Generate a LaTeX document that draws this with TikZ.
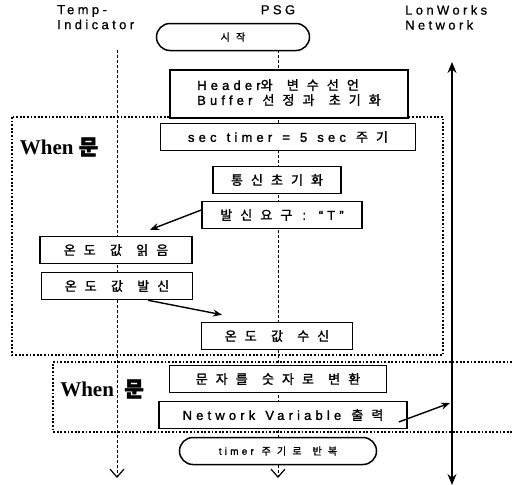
\documentclass[tikz,border=0pt]{standalone}
\usepackage{fontspec}
\setmainfont{Liberation Sans}[LetterSpace=32, WordSpace=1.3, FakeBold=1.5]
\newfontfamily\kofont{Noto Sans CJK KR}[LetterSpace=62, WordSpace=1.3, FakeBold=1.5]
\newfontfamily\headfont{Liberation Sans}[LetterSpace=26, FakeBold=0.8]
\newfontfamily\whenfont{Liberation Serif}
\newfontfamily\krbold{Noto Sans CJK KR}[FakeBold=2.5]
\newcommand\ko[1]{{\kofont #1}}
\usetikzlibrary{arrows.meta,shapes.misc,backgrounds}

\begin{document}
\begin{tikzpicture}[x=1pt, y=-1pt, >={Stealth[length=9pt,width=7pt]},
	box/.style={draw, line width=1.5pt, fill=white, inner sep=0pt, minimum height=27pt, font=\fontsize{13}{17}\selectfont},
	term/.style={box, rounded rectangle, rounded rectangle arc length=180, font=\fontsize{10}{12}\selectfont},
	frame/.style={line width=2.6pt, dash pattern=on 1.8pt off 1.8pt},
	life/.style={line width=1pt, dash pattern=on 3pt off 2pt},
	msg/.style={->, line width=1.4pt},
	head/.style={inner sep=0pt, align=left, font=\headfont\fontsize{13}{15}\selectfont},
	whenlbl/.style={inner sep=0pt, font=\fontsize{21}{21}\selectfont}]
	\useasboundingbox (0,0) rectangle (512,485);

	% column titles
	\node[head, anchor=north west] (temp) at (57,5) {Temp-\\Indicator};
	\node[head, anchor=north] (psg) at (278,5) {PSG};
	\node[head, anchor=north west] (lon) at (405,5) {LonWorks\\Network};

	% the two When blocks
	\draw[frame] (12,117) rectangle (443,355);
	\draw[frame] (512,362) -- (53,362) -- (53,432) -- (512,432);
	\node[whenlbl] (when1) at (59,147) {\whenfont\bfseries When\ \krbold 문};
	\node[whenlbl] (when2) at (102,389) {\whenfont\bfseries When\ \ \krbold 문};

	% steps
	\node[term, minimum width=153] (start) at (233,37) {\ko{시작}};
	\node[box, minimum width=238, minimum height=48] (header) at (289,94) {\begin{tabular}{@{}l@{}}Header\ko{와 변수선언}\\[-2pt]Buffer \ko{선정과 초기화}\end{tabular}};
	\node[box, minimum width=255] (timer) at (288,137) {sec timer = 5 sec \ko{주기}};
	\node[box, minimum width=128] (init) at (277,180) {\ko{통신초기화}};
	\node[box, minimum width=160] (req) at (282,215) {\ko{발신요구} : “T”};
	\node[box, minimum width=152] (read) at (116,250) {\ko{온도 값 읽음}};
	\node[box, minimum width=151] (send) at (117,286) {\ko{온도 값 발신}};
	\node[box, minimum width=151] (recv) at (277,336) {\ko{온도 값 수신}};
	\node[box, minimum width=217] (conv) at (278,379) {\ko{문자를 숫자로 변환}};
	\node[box, minimum width=248] (nv) at (283,415) {Network Variable \ko{출력}};
	\node[term, minimum width=197] (loop) at (278,451) {timer \ko{주기로 반복}};

	\coordinate (tl0) at (117,50);
	\coordinate (tl1) at (117,478);
	\coordinate (pl0) at (278,50);
	\coordinate (pl1) at (278,478);
	\coordinate (lw0) at (452,62);
	\coordinate (lw1) at (452,485);
	\coordinate (lwin) at (450,403);

	% messages
	\draw[msg] ([yshift=5pt]req.west) -- ([xshift=34pt,yshift=6pt]read.north);
	\draw[msg] ([xshift=31pt]send.south) -- ([xshift=-55pt,yshift=7pt]recv.north);
	\draw[msg] ([xshift=-9pt,yshift=-7pt]nv.east) -- (lwin);

	% lifelines
	\begin{pgfonlayer}{background}
		\draw[life, -{Straight Barb[length=8pt,width=14pt,line width=1.2pt]}] (tl0) -- (tl1);
		\draw[life, -{Straight Barb[length=8pt,width=14pt,line width=1.2pt]}] (pl0) -- (pl1);
		\draw[line width=1.5pt, {Stealth[length=11pt,width=9pt]}-{Stealth[length=11pt,width=9pt]}] (lw0) -- (lw1);
	\end{pgfonlayer}
\end{tikzpicture}
\end{document}
